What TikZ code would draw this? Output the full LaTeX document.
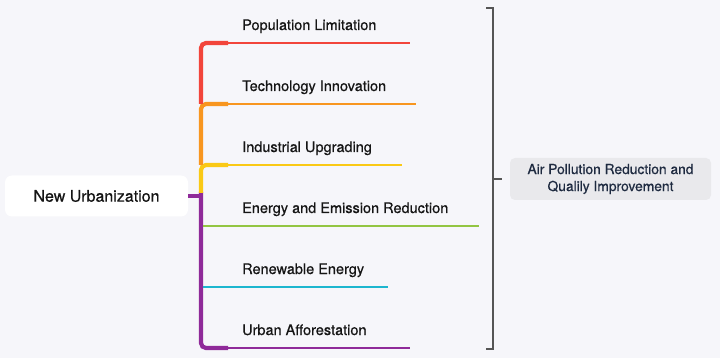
\documentclass[tikz,border=0pt]{standalone}
\usepackage{fontspec}
\setmainfont{TeX Gyre Heros}[FakeBold=0.6]
\definecolor{bgc}{HTML}{F6F6FA}
\definecolor{cred}{HTML}{F2453B}
\definecolor{corange}{HTML}{F8961F}
\definecolor{cyellow}{HTML}{FAC915}
\definecolor{cgreen}{HTML}{93C542}
\definecolor{ccyan}{HTML}{1DB6CF}
\definecolor{cpurple}{HTML}{8F2A99}
\definecolor{cgray}{HTML}{555555}
\definecolor{goalfill}{HTML}{E9E9EC}
\definecolor{goaltext}{HTML}{1E2A40}
\definecolor{txt}{HTML}{151515}
\begin{document}
\begin{tikzpicture}[x=1pt,y=-1pt,
  trunk/.style={line width=4.2pt, rounded corners=5pt},
  twig/.style={line width=1.6pt},
  label/.style={anchor=base west, inner sep=0pt, text=txt, font=\fontsize{14.5}{16}\selectfont},
  bracket/.style={draw=cgray, line width=1.5pt},
]
\fill[bgc] (0,0) rectangle (720,358);
\useasboundingbox (0,0) rectangle (720,358);

% root
\node[fill=white, rounded corners=7pt, minimum width=183pt, minimum height=41pt, inner sep=0pt,
      text=txt, font=\fontsize{16}{18}\selectfont] (root) at (96.5,196) {New Urbanization};

% coordinates
\coordinate (stub) at (201,196);
\coordinate (e1) at (410,43);
\coordinate (e2) at (416,104);
\coordinate (e3) at (402,165);
\coordinate (e4) at (479,226);
\coordinate (e5) at (388,287);
\coordinate (e6) at (410,348);

% labels
\node[label] (t1) at (242,30) {Population Limitation};
\node[label] (t2) at (242,91) {Technology Innovation};
\node[label] (t3) at (242,152) {Industrial Upgrading};
\node[label] (t4) at (242,213) {Energy and Emission Reduction};
\node[label] (t5) at (242,274) {Renewable Energy};
\node[label] (t6) at (242,335) {Urban Afforestation};

% thin branch lines
\draw[twig, cred] (210,43) -- (e1);
\draw[twig, corange] (210,104) -- (e2);
\draw[twig, cyellow] (210,165) -- (e3);
\draw[twig, cgreen] (203,226) -- (e4);
\draw[twig, ccyan] (203,287) -- (e5);
\draw[twig, cpurple] (210,348) -- (e6);

% trunk segments (bottom-up so upper corners are on top)
\draw[trunk, cpurple] (201,192) -- (201,348) -- (228,348);
\draw[trunk, cpurple, rounded corners=0pt] (root.east) -- (stub);
\draw[line width=2.8pt, cgreen] (203,226) -- (228,226);
\draw[line width=2.8pt, ccyan] (203,287) -- (228,287);
\draw[trunk, cyellow] (201,193) -- (201,165) -- (228,165);
\draw[trunk, corange] (201,165) -- (201,104) -- (228,104);
\draw[trunk, cred] (201,104) -- (201,43) -- (228,43);

% bracket
\coordinate (bt) at (486,8);
\coordinate (bb) at (486,349);
\draw[bracket] (bt) -- (493,8) -- (493,349) -- (bb);

% goal
\node[fill=goalfill, rounded corners=5pt, minimum width=201pt, minimum height=42pt, inner sep=0pt,
      align=center, text=goaltext, font=\fontsize{13.8}{17}\selectfont] (goal) at (610.5,179)
      {Air Pollution Reduction and\\Qualily Improvement};
\draw[bracket] (493,179) -- (502,179);
\end{tikzpicture}
\end{document}
